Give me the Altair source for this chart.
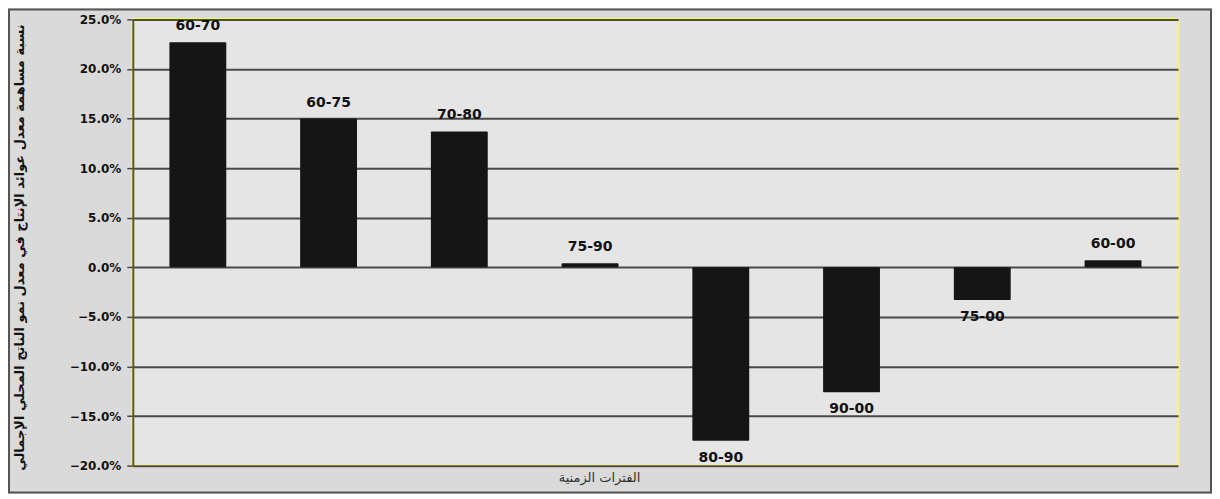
import altair as alt
import pandas as pd

periods = ["60-70", "60-75", "70-80", "75-90", "80-90", "90-00", "75-00", "60-00"]
values = [0.227, 0.150, 0.137, 0.004, -0.175, -0.126, -0.033, 0.007]
y_ticks = [-0.20, -0.15, -0.10, -0.05, 0.0, 0.05, 0.10, 0.15, 0.20, 0.25]

y_title = "نسبة مساهمة معدل عوائد الإنتاج في معدل نمو الناتج المحلي الإجمالي"
x_title = "الفترات الزمنية"

df = pd.DataFrame({"period": periods, "value": values})

W, H = 1047, 447
FONT = "DejaVu Sans"

x_enc = alt.X("period:N", sort=periods,
              scale=alt.Scale(paddingInner=0.565, paddingOuter=0.28),
              axis=alt.Axis(labels=False, ticks=False, domain=False, grid=False,
                            title=x_title, titleFont="DejaVu Sans", titleFontSize=13,
                            titleFontWeight="normal", titleColor="#333",
                            titleX=467, titleY=12, titleAlign="center",
                            titleBaseline="middle"))
y_scale = alt.Scale(domain=[-0.20, 0.25], nice=False, zero=False)
y_enc = alt.Y("value:Q", scale=y_scale,
              axis=alt.Axis(values=y_ticks, format=".1%", grid=True,
                            gridColor="#4a4a4a", gridWidth=2, gridOpacity=1,
                            domainColor="#5a5a2a", domainWidth=2,
                            tickColor="#4a4a4a", tickSize=6, tickWidth=1.5,
                            labelFont=FONT, labelFontSize=12, labelFontWeight="bold",
                            labelColor="#111", labelPadding=6,
                            title=y_title, titleFont="DejaVu Sans", titleFontSize=13,
                            titleFontWeight="bold", titleColor="#111",
                            titleX=-113, titleY=228, titleAlign="center",
                            titleBaseline="middle", titleAngle=-90))

base = alt.Chart(df)

bars = base.mark_bar(color="#151515", cornerRadius=1).encode(
    x=x_enc, y=y_enc, y2=alt.datum(0))

pos_labels = base.transform_filter("datum.value >= 0").mark_text(
    baseline="bottom", dy=-9, font=FONT, fontSize=14, fontWeight="bold", color="#111"
).encode(x=alt.X("period:N", sort=periods), y=alt.Y("value:Q"), text="period:N")

neg_labels = base.transform_filter("datum.value < 0").mark_text(
    baseline="top", dy=10, font=FONT, fontSize=14, fontWeight="bold", color="#111"
).encode(x=alt.X("period:N", sort=periods), y=alt.Y("value:Q"), text="period:N")

frame = alt.Chart(pd.DataFrame({"a": [0]})).mark_rect(
    fill=None, stroke="#555", strokeWidth=2, clip=False
).encode(x=alt.value(-124), x2=alt.value(1080), y=alt.value(-10), y2=alt.value(474))

chart = alt.layer(frame, bars, pos_labels, neg_labels).properties(
    width=W, height=H,
    autosize=alt.AutoSizeParams(type="none"),
    padding={"left": 125, "top": 11, "right": 34, "bottom": 28},
    background="#dadada",
).configure_view(
    fill="#e5e5e5", stroke="#f2eda0", strokeWidth=3
)

chart.save("out.html", embed_options={"renderer": "svg", "actions": False})
